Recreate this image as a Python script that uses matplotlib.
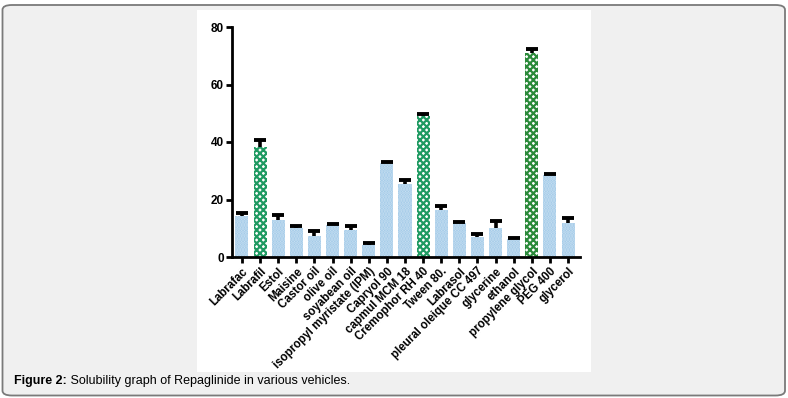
import matplotlib
matplotlib.use("Agg")
import matplotlib.pyplot as plt
from matplotlib.patches import FancyBboxPatch, Rectangle
import numpy as np

categories = ["Labrafac", "Labrafil", "Estol", "Maisine", "Castor oil", "olive oil",
              "soyabean oil", "isopropyl myristate (IPM)", "Capryol 90", "capmul MCM 18",
              "Cremophor RH 40", "Tween 80.", "Labrasol", "pleural oleique CC 497",
              "glycerine", "ethanol", "propylene glycol", "PEG 400", "glycerol"]
values = [14.3, 38.2, 13.0, 10.0, 7.4, 11.2, 9.5, 4.3, 32.7, 25.4,
          49.2, 16.3, 12.0, 7.1, 10.1, 6.2, 71.0, 28.4, 12.0]
errors = [0.9, 2.5, 1.5, 0.9, 1.7, 0.4, 1.3, 0.6, 0.5, 1.4,
          0.5, 1.3, 0.3, 1.0, 2.4, 0.3, 1.4, 0.4, 1.4]
highlight = ["Labrafil", "Cremophor RH 40", "propylene glycol"]
yticks = [0, 20, 40, 60, 80]
caption_bold = "Figure 2:"
caption_rest = " Solubility graph of Repaglinide in various vehicles."

plt.rcParams['hatch.linewidth'] = 1.6

W, H = 788, 398
fig = plt.figure(figsize=(W / 100, H / 100), dpi=100)
fig.patch.set_facecolor("white")

# outer rounded frame
frame = FancyBboxPatch((2.5 / W, 2.5 / H), (785 - 2.5) / W, (393 - 2.5) / H,
                       boxstyle="round,pad=0,rounding_size=0.012",
                       transform=fig.transFigure, facecolor="#f0f0f0",
                       edgecolor="#7a7a7a", linewidth=1.3, zorder=0)
fig.add_artist(frame)
# white panel
panel = Rectangle((197 / W, (H - 372) / H), (591 - 197) / W, (372 - 10) / H,
                  transform=fig.transFigure, facecolor="white", edgecolor="none", zorder=0.5)
fig.add_artist(panel)

ax_l, ax_r, ax_t, ax_b = 232, 580, 27, 257
ax = fig.add_axes([ax_l / W, (H - ax_b) / H, (ax_r - ax_l) / W, (ax_b - ax_t) / H])
ax.set_facecolor("none")
ax.set_zorder(2)

x = np.arange(len(categories))
for i, (c, v) in enumerate(zip(categories, values)):
    if c in highlight:
        col = "#2b8a3a" if c == "propylene glycol" else "#1f9a62"
        ax.bar(i, v, width=0.72, color="white", edgecolor=col, hatch="xxxxx",
               linewidth=0, zorder=2)
    else:
        ax.bar(i, v, width=0.72, color="#9cc6e6", edgecolor="#c8e0f2", hatch="......",
               linewidth=0, zorder=2)

eb = ax.errorbar(x, values, yerr=[np.zeros(len(values)), errors], fmt="none",
                 ecolor="black", elinewidth=2.6, capsize=4.5, capthick=2.8, zorder=3)
for cl in eb[1]:
    if np.allclose(cl.get_ydata(), values):
        cl.set_visible(False)

ax.set_xlim(-0.55, 18.66)
ax.set_ylim(0, 80)
ax.set_yticks(yticks)
ax.set_yticklabels([str(t) for t in yticks], fontsize=8.5, fontweight="bold",
                   family="Liberation Sans")
ax.set_xticks(x)
ax.set_xticklabels(categories, rotation=45, ha="right", rotation_mode="anchor",
                   fontsize=8.3, fontweight="bold", family="Liberation Sans")
for s in ["top", "right"]:
    ax.spines[s].set_visible(False)
for s in ["left", "bottom"]:
    ax.spines[s].set_linewidth(2)
ax.tick_params(axis="both", length=4, width=2, pad=2)

fs = 9
t = fig.text(14 / W, (H - 381) / H, caption_bold, fontsize=fs, fontweight="bold",
             family=["Liberation Sans Narrow", "Liberation Sans"], va="center", ha="left")
fig.canvas.draw()
bb = t.get_window_extent()
fig.text((bb.x1) / W, (H - 381) / H, caption_rest, fontsize=fs,
         family=["Liberation Sans Narrow", "Liberation Sans"], va="center", ha="left")

fig.savefig("out.png", dpi=100)
